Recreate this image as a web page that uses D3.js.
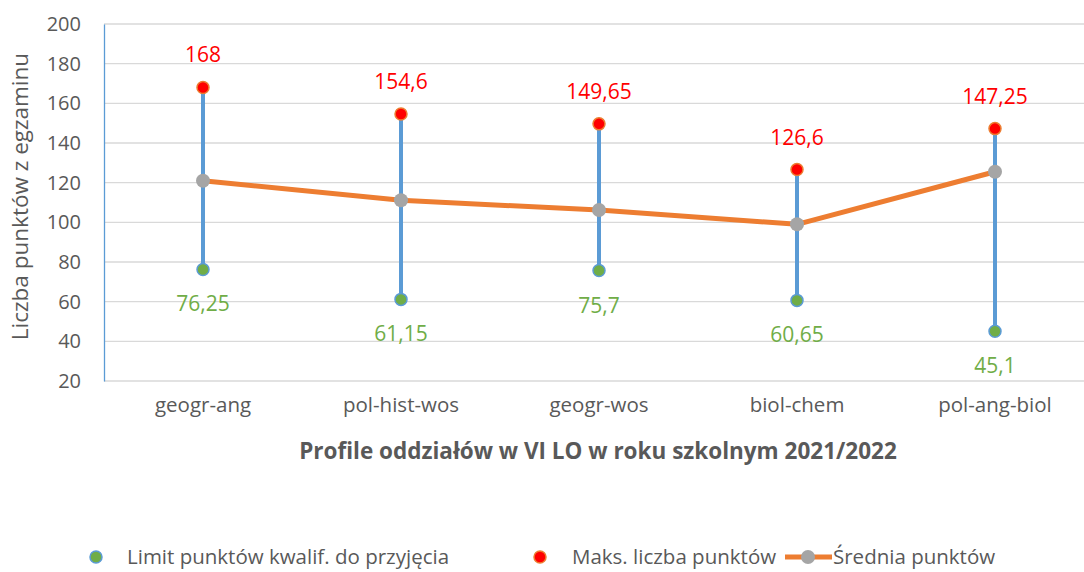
<!DOCTYPE html>
<html>
<head>
<meta charset="utf-8">
<script src="https://cdn.jsdelivr.net/npm/d3@7"></script>
<style>
  body { margin: 0; background: #fff; }
  svg { font-family: "Open Sans", sans-serif; }
</style>
</head>
<body>
<div id="chart"></div>
<script>
var categories = ['geogr-ang', 'pol-hist-wos', 'geogr-wos', 'biol-chem', 'pol-ang-biol'];
var minValues = [76.25, 61.15, 75.7, 60.65, 45.1];
var maxValues = [168, 154.6, 149.65, 126.6, 147.25];
var avgValues = [121, 111.1, 106.2, 99, 125.5];
var yTicks = [20, 40, 60, 80, 100, 120, 140, 160, 180, 200];

var width = 1084, height = 572;
var margin = { left: 104, top: 24, right: -10, bottom: 191 };

var svg = d3.select("#chart").append("svg")
    .attr("width", width)
    .attr("height", height);

var x = d3.scaleBand()
    .domain(categories)
    .range([margin.left, width - margin.right]);

var y = d3.scaleLinear()
    .domain([20, 200])
    .range([height - margin.bottom, margin.top]);

var fmt = function (v) { return String(v).replace('.', ','); };
var cx = function (i) { return x(categories[i]) + x.bandwidth() / 2; };

// gridlines
svg.append("g")
    .selectAll("line")
    .data(yTicks)
    .enter().append("line")
    .attr("x1", margin.left)
    .attr("x2", width)
    .attr("y1", function (d) { return y(d); })
    .attr("y2", function (d) { return y(d); })
    .attr("stroke", "#d9d9d9")
    .attr("stroke-width", 1.3);

// y axis
var yAxis = d3.axisLeft(y).tickValues(yTicks).tickSize(0).tickPadding(23);
var gy = svg.append("g")
    .attr("transform", "translate(" + margin.left + ",0)")
    .call(yAxis);
gy.select(".domain").attr("stroke", "#5b9bd5").attr("stroke-width", 1.3);
gy.selectAll("text")
    .style("font-size", "20px")
    .style("font-family", "'Open Sans', sans-serif")
    .attr("fill", "#595959");

// x axis
var xAxis = d3.axisBottom(x).tickSize(0).tickPadding(16);
var gx = svg.append("g")
    .attr("transform", "translate(0," + y(20) + ")")
    .call(xAxis);
gx.select(".domain").remove();
gx.selectAll("text")
    .style("font-size", "20.5px")
    .style("font-family", "'Open Sans', sans-serif")
    .attr("fill", "#595959");

// axis titles
svg.append("text")
    .attr("transform", "translate(28," + ((y(20) + y(200)) / 2 - 6) + ") rotate(-90)")
    .attr("text-anchor", "middle")
    .style("font-size", "22.5px")
    .attr("fill", "#595959")
    .text("Liczba punktów z egzaminu");

svg.append("text")
    .attr("x", 598)
    .attr("y", 459)
    .attr("text-anchor", "middle")
    .style("font-size", "22.5px")
    .style("font-weight", "bold")
    .attr("fill", "#595959")
    .text("Profile oddziałów w VI LO w roku szkolnym 2021/2022");

// high-low lines
svg.append("g")
    .selectAll("line")
    .data(categories)
    .enter().append("line")
    .attr("x1", function (d, i) { return cx(i); })
    .attr("x2", function (d, i) { return cx(i); })
    .attr("y1", function (d, i) { return y(minValues[i]); })
    .attr("y2", function (d, i) { return y(maxValues[i]); })
    .attr("stroke", "#5b9bd5")
    .attr("stroke-width", 4);

// average line
var line = d3.line()
    .x(function (d, i) { return cx(i); })
    .y(function (d) { return y(d); });

svg.append("path")
    .datum(avgValues)
    .attr("d", line)
    .attr("fill", "none")
    .attr("stroke", "#ed7d31")
    .attr("stroke-width", 5)
    .attr("stroke-linejoin", "round");

svg.append("g")
    .selectAll("circle")
    .data(avgValues)
    .enter().append("circle")
    .attr("cx", function (d, i) { return cx(i); })
    .attr("cy", function (d) { return y(d); })
    .attr("r", 7)
    .attr("fill", "#a5a5a5");

// min markers
svg.append("g")
    .selectAll("circle")
    .data(minValues)
    .enter().append("circle")
    .attr("cx", function (d, i) { return cx(i); })
    .attr("cy", function (d) { return y(d); })
    .attr("r", 6)
    .attr("fill", "#70ad47")
    .attr("stroke", "#5b9bd5")
    .attr("stroke-width", 1.5);

// max markers
svg.append("g")
    .selectAll("circle")
    .data(maxValues)
    .enter().append("circle")
    .attr("cx", function (d, i) { return cx(i); })
    .attr("cy", function (d) { return y(d); })
    .attr("r", 6)
    .attr("fill", "#ff0000")
    .attr("stroke", "#ed7d31")
    .attr("stroke-width", 1.5);

// data labels
svg.append("g")
    .selectAll("text")
    .data(maxValues)
    .enter().append("text")
    .attr("x", function (d, i) { return cx(i); })
    .attr("y", function (d) { return y(d) - 25; })
    .attr("text-anchor", "middle")
    .style("font-size", "21px")
    .attr("fill", "#ff0000")
    .text(fmt);

svg.append("g")
    .selectAll("text")
    .data(minValues)
    .enter().append("text")
    .attr("x", function (d, i) { return cx(i); })
    .attr("y", function (d) { return y(d) + 42; })
    .attr("text-anchor", "middle")
    .style("font-size", "21px")
    .attr("fill", "#70ad47")
    .text(fmt);

// legend
var legY = 557;
var legend = svg.append("g").style("font-size", "20.5px");

legend.append("circle").attr("cx", 96).attr("cy", legY).attr("r", 6)
    .attr("fill", "#70ad47").attr("stroke", "#5b9bd5").attr("stroke-width", 1.5);
legend.append("text").attr("x", 127).attr("y", legY + 7).attr("fill", "#595959")
    .text("Limit punktów kwalif. do przyjęcia");

legend.append("circle").attr("cx", 540).attr("cy", legY).attr("r", 6)
    .attr("fill", "#ff0000").attr("stroke", "#ed7d31").attr("stroke-width", 1.5);
legend.append("text").attr("x", 572).attr("y", legY + 7).attr("fill", "#595959")
    .text("Maks. liczba punktów");

legend.append("line").attr("x1", 785).attr("x2", 832).attr("y1", legY).attr("y2", legY)
    .attr("stroke", "#ed7d31").attr("stroke-width", 5);
legend.append("circle").attr("cx", 808).attr("cy", legY).attr("r", 7).attr("fill", "#a5a5a5");
legend.append("text").attr("x", 833).attr("y", legY + 7).attr("fill", "#595959")
    .text("Średnia punktów");
</script>
</body>
</html>
